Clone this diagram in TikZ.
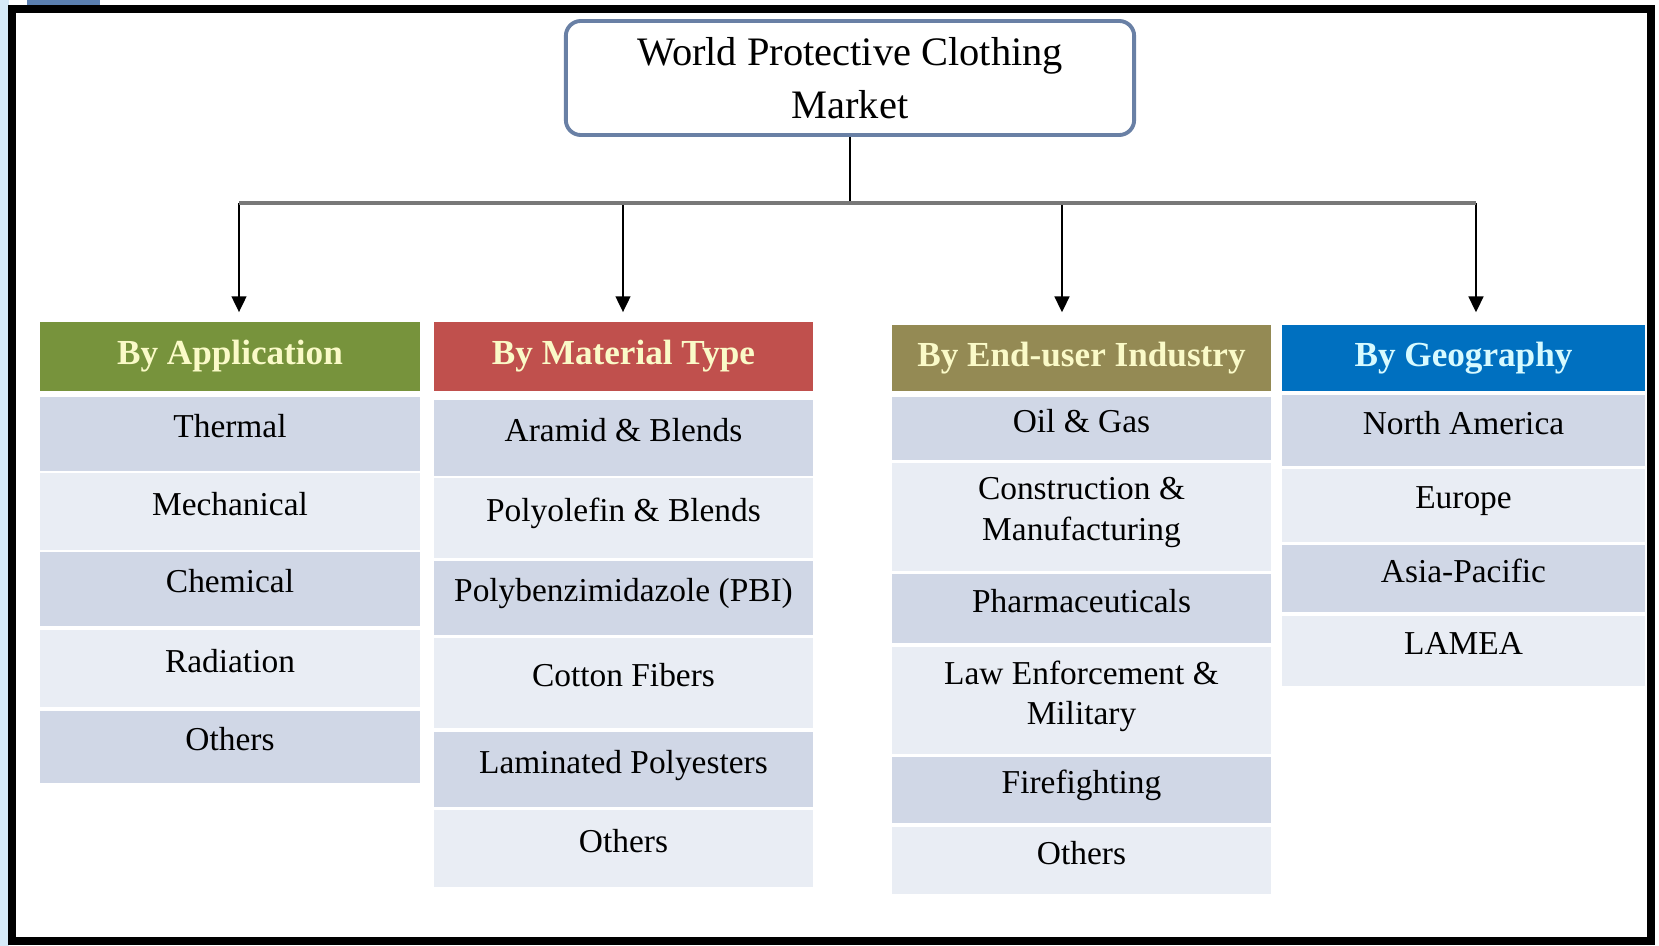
\documentclass[tikz,border=0pt]{standalone}
\usepackage{fontspec}
\setmainfont{Liberation Serif}
\usepackage{tikz}
\usetikzlibrary{arrows.meta}

\definecolor{appgreen}{RGB}{119,147,60}
\definecolor{matred}{RGB}{192,80,77}
\definecolor{endkhaki}{RGB}{148,138,84}
\definecolor{geoblue}{RGB}{0,112,192}
\definecolor{rowdark}{RGB}{208,215,230}
\definecolor{rowlight}{RGB}{233,237,244}
\definecolor{titleedge}{RGB}{105,128,165}
\definecolor{hdrcream}{RGB}{250,250,200}
\definecolor{hdrcyan}{RGB}{215,250,255}
\definecolor{sidebg}{RGB}{214,234,248}
\definecolor{cornerblue}{RGB}{91,127,176}
\definecolor{busgray}{RGB}{120,120,120}

\begin{document}
\begin{tikzpicture}[x=0.01cm,y=-0.01cm,
	cell/.style={inner sep=0pt,outer sep=0pt,align=center,text depth=4.5pt,font=\fontsize{9.5}{11.5}\selectfont},
	darkrow/.style={cell,fill=rowdark},
	lightrow/.style={cell,fill=rowlight},
	header/.style={inner sep=0pt,outer sep=0pt,font=\fontsize{10}{12}\selectfont\bfseries}]
	\useasboundingbox (0,0) rectangle (1659,946);
	\fill[sidebg] (0,0) rectangle (9,946);
	\fill[cornerblue] (27,0) rectangle (100,5);
	\draw[line width=2.3pt] (12,9) rectangle (1651,941);

	\node[draw=titleedge,line width=1.1pt,rounded corners=1.5mm,fill=white,
	      minimum width=56.8mm,minimum height=11.4mm,align=center,
	      font=\fontsize{11.5}{15}\selectfont] (market) at (850,78) {World Protective Clothing\\Market};

	\node[header,fill=appgreen,text=hdrcream,minimum width=38mm,minimum height=6.9mm] (app) at (230,356.5) {By Application};
	\node[header,fill=matred,text=hdrcream,minimum width=37.9mm,minimum height=6.9mm] (mat) at (623.5,356.5) {By Material Type};
	\node[header,fill=endkhaki,text=hdrcream,minimum width=37.9mm,minimum height=6.6mm] (end) at (1081.5,358) {By End-user Industry};
	\node[header,fill=geoblue,text=hdrcyan,minimum width=36.3mm,minimum height=6.6mm] (geo) at (1463.5,358) {By Geography};

	\begin{scope}[every node/.append style={minimum width=38mm}]
		\node[darkrow,minimum height=7.4mm] (app1) at (230,434) {Thermal};
		\node[lightrow,minimum height=7.7mm] (app2) at (230,511.5) {Mechanical};
		\node[darkrow,minimum height=7.4mm] (app3) at (230,589) {Chemical};
		\node[lightrow,minimum height=7.7mm] (app4) at (230,668.5) {Radiation};
		\node[darkrow,minimum height=7.2mm] (app5) at (230,747) {Others};
	\end{scope}

	\begin{scope}[every node/.append style={minimum width=37.9mm}]
		\node[darkrow,minimum height=7.6mm] (mat1) at (623.5,438) {Aramid \& Blends};
		\node[lightrow,minimum height=8mm] (mat2) at (623.5,518) {Polyolefin \& Blends};
		\node[darkrow,minimum height=7.4mm] (mat3) at (623.5,598) {Polybenzimidazole (PBI)};
		\node[lightrow,minimum height=9mm] (mat4) at (623.5,683) {Cotton Fibers};
		\node[darkrow,minimum height=7.5mm] (mat5) at (623.5,769.5) {Laminated Polyesters};
		\node[lightrow,minimum height=7.7mm] (mat6) at (623.5,848.5) {Others};
	\end{scope}

	\begin{scope}[every node/.append style={minimum width=37.9mm}]
		\node[darkrow,minimum height=6.3mm] (end1) at (1081.5,428.5) {Oil \& Gas};
		\node[lightrow,minimum height=10.8mm] (end2) at (1081.5,517) {Construction \&\\Manufacturing};
		\node[darkrow,minimum height=6.9mm] (end3) at (1081.5,608.5) {Pharmaceuticals};
		\node[lightrow,minimum height=10.7mm] (end4) at (1081.5,700.5) {Law Enforcement \&\\Military};
		\node[darkrow,minimum height=6.6mm] (end5) at (1081.5,790) {Firefighting};
		\node[lightrow,minimum height=6.7mm] (end6) at (1081.5,860.5) {Others};
	\end{scope}

	\begin{scope}[every node/.append style={minimum width=36.3mm}]
		\node[darkrow,minimum height=7.1mm] (geo1) at (1463.5,430.5) {North America};
		\node[lightrow,minimum height=7.3mm] (geo2) at (1463.5,505.5) {Europe};
		\node[darkrow,minimum height=6.7mm] (geo3) at (1463.5,578.5) {Asia-Pacific};
		\node[lightrow,minimum height=7mm] (geo4) at (1463.5,651) {LAMEA};
	\end{scope}

	\coordinate (bus) at (850,203);
	\coordinate (drop1) at (239,203);
	\coordinate (drop2) at (623,203);
	\coordinate (drop3) at (1062,203);
	\coordinate (drop4) at (1476,203);

	\begin{scope}[>={Triangle[width=4.2pt,length=4.5pt]},line width=0.6pt]
		\draw (market.south) -- (bus);
		\draw[->,shorten >=2.8pt] (drop1) -- (drop1 |- app.north);
		\draw[->,shorten >=2.8pt] (drop2) -- (drop2 |- mat.north);
		\draw[->,shorten >=3.6pt] (drop3) -- (drop3 |- end.north);
		\draw[->,shorten >=3.6pt] (drop4) -- (drop4 |- geo.north);
		\draw[busgray,line width=1.2pt] (drop1) -- (drop4);
	\end{scope}
\end{tikzpicture}
\end{document}
